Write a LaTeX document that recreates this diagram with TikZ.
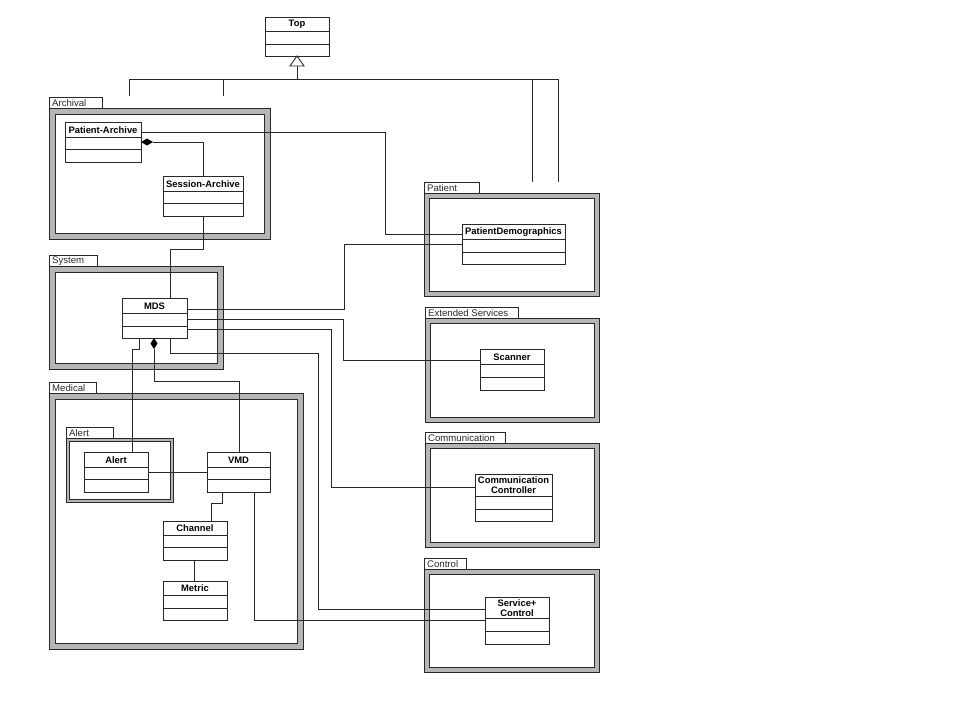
\documentclass[tikz,border=0pt]{standalone}
\usepackage{fontspec}
\setmainfont{Liberation Sans}
\usetikzlibrary{calc}
\definecolor{frame}{RGB}{182,182,182}
\definecolor{ink}{RGB}{40,40,40}
\tikzset{
  classbox/.style={draw=ink, line width=0.9pt, fill=white, rectangle, inner sep=0pt, outer sep=0pt},
  ctitle/.style={font=\fontsize{9.4}{10}\selectfont\bfseries, align=center, inner sep=0pt, text=black},
  ptab/.style={font=\fontsize{9.6}{10}\selectfont, inner sep=0pt, anchor=west, text=ink},
  conn/.style={draw=ink, line width=0.9pt},
  pline/.style={draw=ink, line width=0.8pt},
}
% name, x, y, w, h, d1, d2, title
\newcommand\uclass[8]{%
  \node[classbox, minimum width=#4pt, minimum height=#5pt, anchor=north west] (#1) at (#2,#3) {};
  \draw[conn] ($(#1.north west)+(0,#6)$) -- ($(#1.north east)+(0,#6)$);
  \draw[conn] ($(#1.north west)+(0,#7)$) -- ($(#1.north east)+(0,#7)$);
  \node[ctitle] at ($(#1.north)+(0,{#6/2+0.4})$) {#8};
}
% x1 y1 x2 y2 (outer body) thickness tabx2 taby1 label
\newcommand\upkg[8]{%
  \draw[pline, fill=white] (#1,#7) rectangle (#6,#2);
  \node[ptab] at ({#1+3},{(#7+#2)/2+0.3}) {#8};
  \fill[frame] (#1,#2) rectangle (#3,#4);
  \fill[white] ({#1+#5},{#2+#5}) rectangle ({#3-#5},{#4-#5});
  \draw[pline] (#1,#2) rectangle (#3,#4);
  \draw[pline] ({#1+#5},{#2+#5}) rectangle ({#3-#5},{#4-#5});
}
\begin{document}
\begin{tikzpicture}[x=1pt,y=-1pt]
\useasboundingbox[fill=white] (0,0) rectangle (960,720);

% packages
\upkg{49}{108}{270}{239}{6}{102}{97}{Archival}
\upkg{424}{193}{599}{296}{5}{479}{182}{Patient}
\upkg{49}{266}{223}{369}{6}{97}{255}{System}
\upkg{425}{318}{599}{422}{5}{518}{307}{Extended Services}
\upkg{49}{393}{303}{649}{6}{96}{382}{Medical}
\upkg{425}{443}{599}{547}{5}{505}{432}{Communication}
\upkg{424}{569}{599}{672}{5}{466}{558}{Control}
\upkg{66}{438}{173}{502}{3}{113}{427}{Alert}

% classes
\uclass{top}{265}{17}{64}{39}{14}{27}{Top}
\uclass{pa}{65}{122}{76}{40}{15}{27}{Patient-Archive}
\uclass{sa}{163}{176}{80}{40}{15}{27}{Session-Archive}
\uclass{pd}{462}{224}{103}{40}{15}{28}{PatientDemographics}
\uclass{mds}{122}{298}{65}{40}{15}{28}{MDS}
\uclass{scan}{480}{349}{64}{41}{15}{28}{Scanner}
\uclass{alert}{84}{452}{64}{40}{15}{27}{Alert}
\uclass{vmd}{207}{452}{63}{40}{15}{27}{VMD}
\uclass{cc}{475}{474}{77}{47}{22}{35}{Communication\\Controller}
\uclass{chan}{163}{521}{64}{39}{14}{26}{Channel}
\uclass{met}{163}{581}{64}{39}{14}{27}{Metric}
\uclass{sc}{485}{597}{64}{47}{21}{34}{Service+\\Control}

% generalization to Top
\coordinate (g1) at (129,96);
\coordinate (g2) at (223,96);
\coordinate (g3) at (532,182);
\coordinate (g4) at (558,182);
\draw[conn, fill=white] (top.south) -- (304,66) -- (290,66) -- cycle;
\draw[conn] (297,66) -- (297,79);
\draw[conn] (g1) -- (129,79) -- (558,79) -- (g4);
\draw[conn] (g2) -- (223,79);
\draw[conn] (g3) -- (532,79);

% Patient-Archive <>-- Session-Archive
\draw[conn] (sa.north -| 203,0) -- (203,142) -- (153,142);
\fill[black] (pa.east |- 0,142) -- (147,138.5) -- (153,142) -- (147,145.5) -- cycle;

% Patient-Archive -- PatientDemographics
\draw[conn] ($(pa.north east)+(0,10)$) -- (385,132) -- (385,234) -- (pd.west |- 0,234);

% Session-Archive -- MDS
\draw[conn] (sa.south -| 203,0) -- (203,249) -- (170,249) -- (mds.north -| 170,0);

% MDS -- PatientDemographics
\draw[conn] (mds.east |- 0,309) -- (344,309) -- (344,244) -- (pd.west |- 0,244);
% MDS -- Scanner
\draw[conn] (mds.east |- 0,319) -- (343,319) -- (343,360) -- (scan.west |- 0,360);
% MDS -- Communication Controller
\draw[conn] (mds.east |- 0,329) -- (331,329) -- (331,487) -- (cc.west |- 0,487);
% MDS -- Service+Control
\draw[conn] (mds.south -| 170,0) -- (170,353) -- (318,353) -- (318,609) -- (sc.west |- 0,609);
% MDS -- Alert
\draw[conn] (mds.south -| 139,0) -- (139,349) -- (132,349) -- (alert.north -| 132,0);
% MDS <>-- VMD
\fill[black] (mds.south -| 154,0) -- (157.5,343.5) -- (154,349) -- (150.5,343.5) -- cycle;
\draw[conn] (154,349) -- (154,381) -- (239,381) -- (vmd.north -| 239,0);

% Alert -- VMD
\draw[conn] (alert.east |- 0,472) -- (vmd.west |- 0,472);
% VMD -- Channel
\draw[conn] (vmd.south -| 222,0) -- (222,503) -- (211,503) -- (chan.north -| 211,0);
% Channel -- Metric
\draw[conn] (chan.south -| 194,0) -- (met.north -| 194,0);
% VMD -- Service+Control
\draw[conn] (vmd.south -| 254,0) -- (254,620) -- (sc.west |- 0,620);
\end{tikzpicture}
\end{document}
